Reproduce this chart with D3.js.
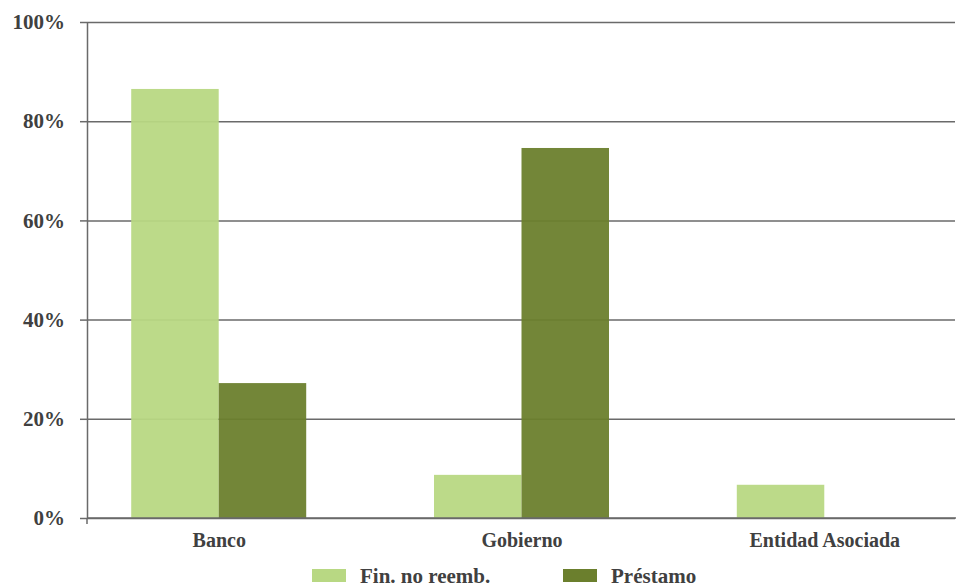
<!DOCTYPE html>
<html>
<head>
<meta charset="utf-8">
<script src="https://cdn.jsdelivr.net/npm/d3@7"></script>
<style>
  html, body { margin: 0; padding: 0; background: #fff; }
  svg text { font-family: "Liberation Serif", "DejaVu Serif", serif; font-weight: bold; fill: #404040; }
</style>
</head>
<body>
<svg id="chart" width="956" height="588"></svg>
<script>
// Share of financing type by counterpart (%)
const categories = ["Banco", "Gobierno", "Entidad Asociada"];
const seriesNames = ["Fin. no reemb.", "Préstamo"];
const finNoReemb = [86.5, 8.7, 6.7];
const prestamo = [27.2, 74.6, 0];
const yTicks = [0, 20, 40, 60, 80, 100];
const colors = ["#b8d883", "#6b7f2d"];

const svg = d3.select("#chart");
const plot = { left: 87, right: 956, top: 22, bottom: 518 };

const y = d3.scaleLinear().domain([0, 100]).range([plot.bottom, plot.top]);
const x = d3.scalePoint().domain(categories).range([plot.left, plot.right]).padding(0.435);
const barW = 87.5;
const xs = d3.scaleBand().domain(seriesNames).range([-barW, barW]);

const rows = categories.map((c, i) => ({ cat: c, vals: [finNoReemb[i], prestamo[i]] }));

// gridlines
svg.append("g")
  .attr("transform", `translate(${plot.left},0)`)
  .call(d3.axisLeft(y).tickValues(yTicks).tickSize(-(plot.right - plot.left - 1)).tickFormat(""))
  .call(g => g.select(".domain").remove())
  .call(g => g.selectAll("line").attr("stroke", "#6a6a6a").attr("stroke-width", 1.5));

// bars
svg.append("g").selectAll("g")
  .data(rows).join("g")
  .attr("transform", d => `translate(${x(d.cat)},0)`)
  .selectAll("rect")
  .data(d => d.vals.map((v, j) => ({ v, j })))
  .join("rect")
  .attr("x", d => xs(seriesNames[d.j]))
  .attr("width", xs.bandwidth())
  .attr("y", d => y(d.v))
  .attr("height", d => y(0) - y(d.v))
  .attr("fill", d => colors[d.j])
  .attr("fill-opacity", 0.95);

// y axis
svg.append("g")
  .attr("transform", `translate(${plot.left},0)`)
  .call(d3.axisLeft(y).tickValues(yTicks).tickSize(7).tickPadding(15).tickSizeOuter(0).tickFormat(d => d + "%"))
  .call(g => g.select(".domain").attr("stroke", "#6a6a6a").attr("stroke-width", 1.5))
  .call(g => g.selectAll("line").attr("stroke", "#6a6a6a").attr("stroke-width", 1.5))
  .call(g => g.selectAll("text").attr("font-size", 21).attr("fill", "#404040"));

// x axis
svg.append("g")
  .attr("transform", `translate(0,${plot.bottom})`)
  .call(d3.axisBottom(x).tickSize(0).tickPadding(15))
  .call(g => g.select(".domain").attr("d", `M${plot.left},0H${plot.right}`).attr("stroke", "#6a6a6a").attr("stroke-width", 1.5))
  .call(g => g.selectAll("text").attr("font-size", 20).attr("fill", "#404040"));

svg.append("line")
  .attr("x1", plot.left).attr("x2", plot.left).attr("y1", plot.bottom).attr("y2", plot.bottom + 6)
  .attr("stroke", "#6a6a6a").attr("stroke-width", 1.5);

// legend
const legendX = [312, 563];
const lg = svg.append("g").selectAll("g").data(seriesNames).join("g")
  .attr("transform", (d, i) => `translate(${legendX[i]},569)`);
lg.append("rect").attr("width", 34).attr("height", 13).attr("fill", (d, i) => colors[i]);
lg.append("text").attr("x", 48).attr("y", 14).attr("font-size", 21).text(d => d);
</script>
</body>
</html>
